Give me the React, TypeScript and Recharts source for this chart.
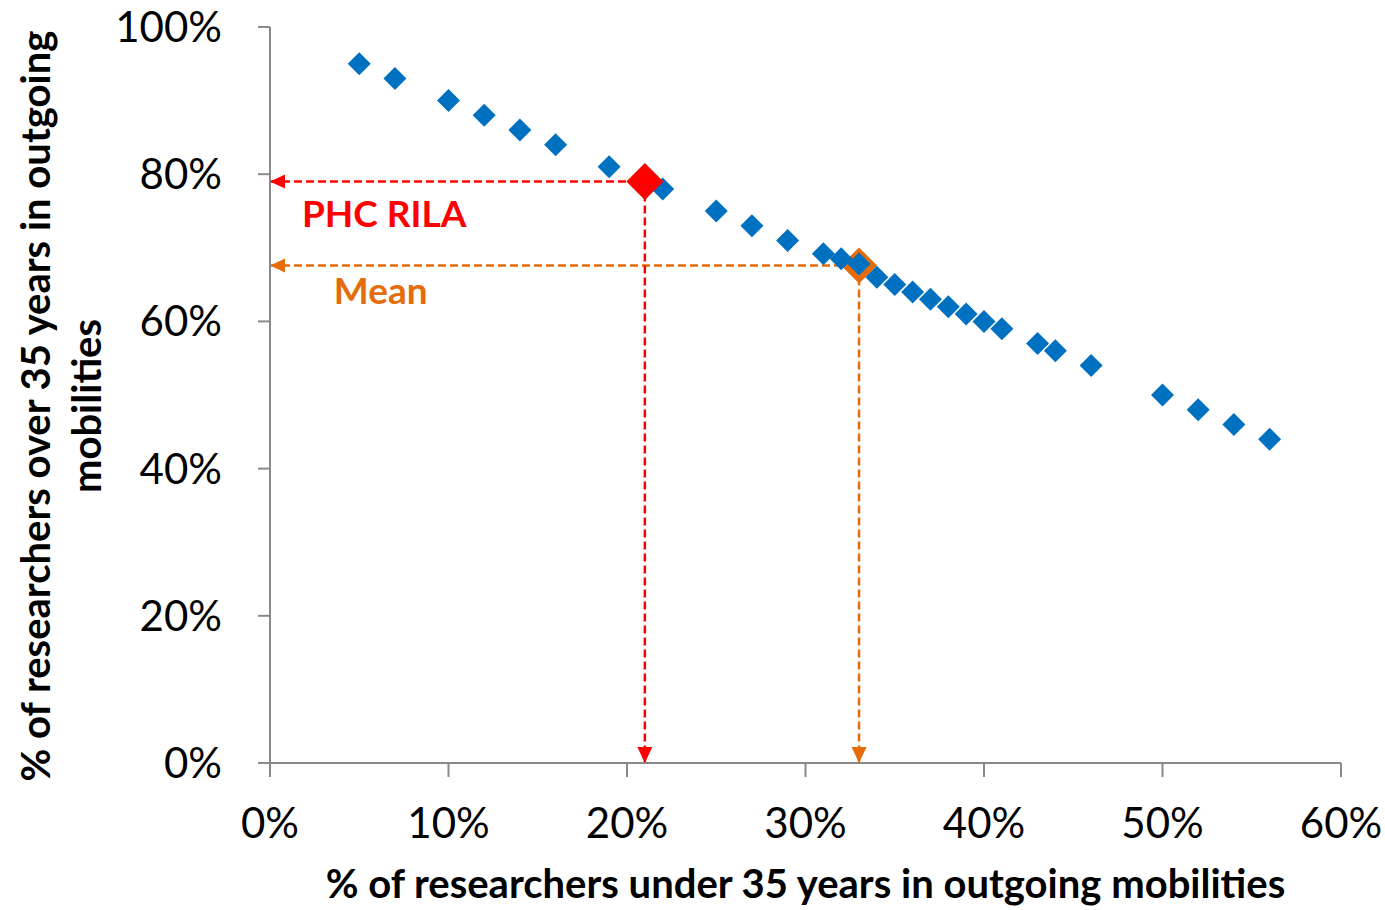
import {
  ScatterChart,
  Scatter,
  XAxis,
  YAxis,
  ReferenceLine,
  ReferenceDot,
} from 'recharts'

// % under 35 (x) vs % over 35 (y), one point per programme
const underShare = [5, 7, 10, 12, 14, 16, 19, 22, 25, 27, 29, 31, 32, 33, 34, 35, 36, 37, 38, 39, 40, 41, 43, 44, 46, 50, 52, 54, 56]
const overShare = [95, 93, 90, 88, 86, 84, 81, 78, 75, 73, 71, 69.2, 68.5, 67.8, 66, 65, 64, 63, 62, 61, 60, 59, 57, 56, 54, 50, 48, 46, 44]

const rilaPoint = { x: 21, y: 79 }
const meanPoint = { x: 33, y: 67.6 }

const xTicks = [0, 10, 20, 30, 40, 50, 60]
const yTicks = [0, 20, 40, 60, 80, 100]

const points = underShare.map((x, i) => ({ x, y: overShare[i] }))

const BLUE = '#0070C0'
const RED = '#FF0000'
const ORANGE = '#E46C0A'
const AXIS = '#898989'
const FONT = 'Lato, "Open Sans", sans-serif'

function diamond(color: string, half: number) {
  return (props: any) => {
    const { cx, cy } = props
    return (
      <polygon
        points={`${cx},${cy - half} ${cx + half},${cy} ${cx},${cy + half} ${cx - half},${cy}`}
        fill={color}
      />
    )
  }
}

function arrowLeft(color: string) {
  return (props: any) => {
    const { cx, cy } = props
    return <polygon points={`${cx},${cy} ${cx + 15},${cy - 7} ${cx + 15},${cy + 7}`} fill={color} />
  }
}

function arrowDown(color: string) {
  return (props: any) => {
    const { cx, cy } = props
    return <polygon points={`${cx},${cy} ${cx - 7.5},${cy - 16} ${cx + 7.5},${cy - 16}`} fill={color} />
  }
}

function tag(text: string, color: string) {
  return (props: any) => (
    <text
      x={props.cx}
      y={props.cy}
      textAnchor="middle"
      dominantBaseline="central"
      fill={color}
      fontFamily={FONT}
      fontWeight={700}
      fontSize={37}
    >
      {text}
    </text>
  )
}

function YTitle() {
  return (
    <text
      transform="translate(62, 406) rotate(-90)"
      textAnchor="middle"
      fontFamily={FONT}
      fontWeight={700}
      fontSize={40}
      fill="#000"
    >
      <tspan x={0} dy={-12}>% of researchers over 35 years in outgoing</tspan>
      <tspan x={0} dy={51}>mobilities</tspan>
    </text>
  )
}

export default function App() {
  const tickStyle = { fontFamily: FONT, fontSize: 42, fill: '#000' }
  return (
    <div style={{ position: 'absolute', left: 0, top: 0, background: '#fff' }}>
      <ScatterChart width={1385} height={910} margin={{ top: 27, right: 44, bottom: 0, left: 0 }}>
        <XAxis
          type="number"
          dataKey="x"
          domain={[0, 60]}
          ticks={xTicks}
          tickFormatter={(v) => `${v}%`}
          height={147}
          stroke={AXIS}
          strokeWidth={2}
          tickSize={14}
          tickMargin={31}
          tick={tickStyle}
          label={{
            value: '% of researchers under 35 years in outgoing mobilities',
            position: 'insideBottom',
            offset: 12,
            style: { fontFamily: FONT, fontWeight: 700, fontSize: 40, fill: '#000' },
          }}
        />
        <YAxis
          type="number"
          dataKey="y"
          domain={[0, 100]}
          ticks={yTicks}
          tickFormatter={(v) => `${v}%`}
          width={270}
          stroke={AXIS}
          strokeWidth={2}
          tickSize={12}
          tickMargin={36}
          tick={tickStyle}
          label={{ content: () => <YTitle /> }}
        />
        <Scatter data={[meanPoint]} shape={diamond(ORANGE, 18)} isAnimationActive={false} />
        <ReferenceLine
          segment={[{ x: 0, y: meanPoint.y }, { x: meanPoint.x, y: meanPoint.y }]}
          stroke={ORANGE}
          strokeWidth={2.5}
          strokeDasharray="8 4"
        />
        <ReferenceLine
          segment={[{ x: meanPoint.x, y: meanPoint.y }, { x: meanPoint.x, y: 0 }]}
          stroke={ORANGE}
          strokeWidth={2.5}
          strokeDasharray="8 4"
        />
        <Scatter data={points} shape={diamond(BLUE, 11.5)} isAnimationActive={false} />
        <ReferenceLine
          segment={[{ x: 0, y: rilaPoint.y }, { x: rilaPoint.x, y: rilaPoint.y }]}
          stroke={RED}
          strokeWidth={2.5}
          strokeDasharray="8 4"
        />
        <ReferenceLine
          segment={[{ x: rilaPoint.x, y: rilaPoint.y }, { x: rilaPoint.x, y: 0 }]}
          stroke={RED}
          strokeWidth={2.5}
          strokeDasharray="8 4"
        />
        <Scatter data={[rilaPoint]} shape={diamond(RED, 18.5)} isAnimationActive={false} />
        <ReferenceDot x={0} y={rilaPoint.y} shape={arrowLeft(RED)} />
        <ReferenceDot x={rilaPoint.x} y={0} shape={arrowDown(RED)} />
        <ReferenceDot x={0} y={meanPoint.y} shape={arrowLeft(ORANGE)} />
        <ReferenceDot x={meanPoint.x} y={0} shape={arrowDown(ORANGE)} />
        <ReferenceDot x={6.4} y={74.8} shape={tag('PHC RILA', RED)} />
        <ReferenceDot x={6.2} y={64.4} shape={tag('Mean', ORANGE)} />
      </ScatterChart>
    </div>
  )
}
